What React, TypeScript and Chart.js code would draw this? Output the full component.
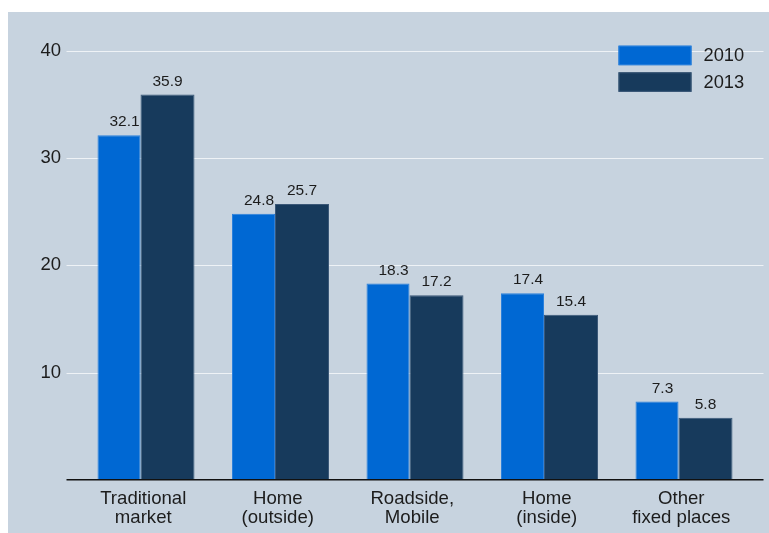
import { useEffect, useRef } from "react";
import { Chart, registerables } from "chart.js";

Chart.register(...registerables);

const categories: string[][] = [
  ["Traditional", "market"],
  ["Home", "(outside)"],
  ["Roadside,", "Mobile"],
  ["Home", "(inside)"],
  ["Other", "fixed places"],
];
const series2010 = [32.1, 24.8, 18.3, 17.4, 7.3];
const series2013 = [35.9, 25.7, 17.2, 15.4, 5.8];
const seriesNames = ["2010", "2013"];
const yTicks = [10, 20, 30, 40];

const FONT = "'Liberation Sans', Arial, Helvetica, sans-serif";
const PANEL = "#c7d3df";
const COLORS = ["#0068d3", "#173a5c"];
const BORDERS = ["#2a80dc", "#3b5878"];
const TEXT = "#1c1c1c";

const decor = {
  id: "decor",
  beforeDraw(chart: any) {
    const { ctx, width, height } = chart;
    ctx.save();
    ctx.fillStyle = PANEL;
    ctx.fillRect(0, 0, width, height);
    ctx.restore();
  },
  beforeDatasetsDraw(chart: any) {
    const { ctx, chartArea, scales } = chart;
    const y = scales.y;
    ctx.save();
    ctx.strokeStyle = "#eef2f6";
    ctx.lineWidth = 1.2;
    for (const t of yTicks) {
      const py = Math.round(y.getPixelForValue(t)) + 0.5;
      ctx.beginPath();
      ctx.moveTo(chartArea.left - 9.5, py);
      ctx.lineTo(chartArea.right + 15, py);
      ctx.stroke();
    }
    ctx.restore();
  },
  afterDatasetsDraw(chart: any) {
    const { ctx, chartArea } = chart;
    ctx.save();
    // axis line
    ctx.strokeStyle = "#111";
    ctx.lineWidth = 1.6;
    ctx.beginPath();
    ctx.moveTo(chartArea.left - 9.5, chartArea.bottom - 0.3);
    ctx.lineTo(chartArea.right + 15, chartArea.bottom - 0.3);
    ctx.stroke();

    // value labels
    const m0 = chart.getDatasetMeta(0);
    const m1 = chart.getDatasetMeta(1);
    ctx.font = `15.5px ${FONT}`;
    ctx.fillStyle = TEXT;
    ctx.textAlign = "center";
    ctx.textBaseline = "alphabetic";
    m0.data.forEach((el: any, i: number) => {
      const el1 = m1.data[i];
      const left = el.x - el.width / 2;
      const x = left + el1.width / 2;
      ctx.fillText(series2010[i].toFixed(1), x, el.y - 9);
    });
    m1.data.forEach((el: any, i: number) => {
      ctx.fillText(series2013[i].toFixed(1), el.x, el.y - 9);
    });

    // legend
    const bx = chartArea.right - 130;
    const bw = 73;
    const bh = 19.5;
    const tops = [chartArea.top - 4.8, chartArea.top + 21.8];
    ctx.font = `18.3px ${FONT}`;
    ctx.textAlign = "left";
    ctx.textBaseline = "middle";
    seriesNames.forEach((name, i) => {
      ctx.fillStyle = COLORS[i];
      ctx.fillRect(bx, tops[i], bw, bh);
      ctx.strokeStyle = BORDERS[i];
      ctx.lineWidth = 1;
      ctx.strokeRect(bx + 0.5, tops[i] + 0.5, bw - 1, bh - 1);
      ctx.fillStyle = TEXT;
      ctx.fillText(name, chartArea.right - 45, tops[i] + bh / 2 + 1);
    });
    ctx.restore();
  },
};

export default function App() {
  const ref = useRef<HTMLCanvasElement | null>(null);

  useEffect(() => {
    if (!ref.current) return;
    const chart = new Chart(ref.current, {
      type: "bar",
      data: {
        labels: categories,
        datasets: [
          {
            label: seriesNames[0],
            data: series2010,
            backgroundColor: COLORS[0],
            borderColor: BORDERS[0],
            borderWidth: 1,
            barPercentage: 43 / 48.5,
            categoryPercentage: 97 / 134.5,
          },
          {
            label: seriesNames[1],
            data: series2013,
            backgroundColor: COLORS[1],
            borderColor: BORDERS[1],
            borderWidth: 1,
            barPercentage: 54 / 48.5,
            categoryPercentage: 97 / 134.5,
          },
        ],
      },
      options: {
        animation: false,
        responsive: false,
        devicePixelRatio: 1,
        layout: { padding: { top: 38.5, right: 20.5, left: 0, bottom: 0 } },
        plugins: {
          legend: { display: false },
          tooltip: { enabled: false },
        },
        scales: {
          x: {
            grid: { display: false },
            border: { display: false },
            ticks: {
              color: TEXT,
              font: { family: FONT, size: 18.6, lineHeight: 1.03 },
              padding: 1,
              maxRotation: 0,
              autoSkip: false,
            },
            afterFit(scale: any) {
              scale.height = 53;
            },
          },
          y: {
            min: 0,
            max: 40,
            grid: { display: false },
            border: { display: false },
            ticks: {
              stepSize: 10,
              color: TEXT,
              font: { family: FONT, size: 18.5 },
              padding: 7,
              callback: (v: any) => (yTicks.includes(Number(v)) ? String(v) : ""),
            },
            afterFit(scale: any) {
              scale.width = 68;
            },
          },
        },
      },
      plugins: [decor],
    });
    return () => chart.destroy();
  }, []);

  return (
    <div
      style={{
        position: "fixed",
        left: 0,
        top: 0,
        width: 769,
        height: 533,
        background: "#ffffff",
        overflow: "hidden",
      }}
    >
      <canvas
        ref={ref}
        width={761}
        height={521}
        style={{ position: "absolute", left: 8, top: 12, width: 761, height: 521 }}
      />
    </div>
  );
}
